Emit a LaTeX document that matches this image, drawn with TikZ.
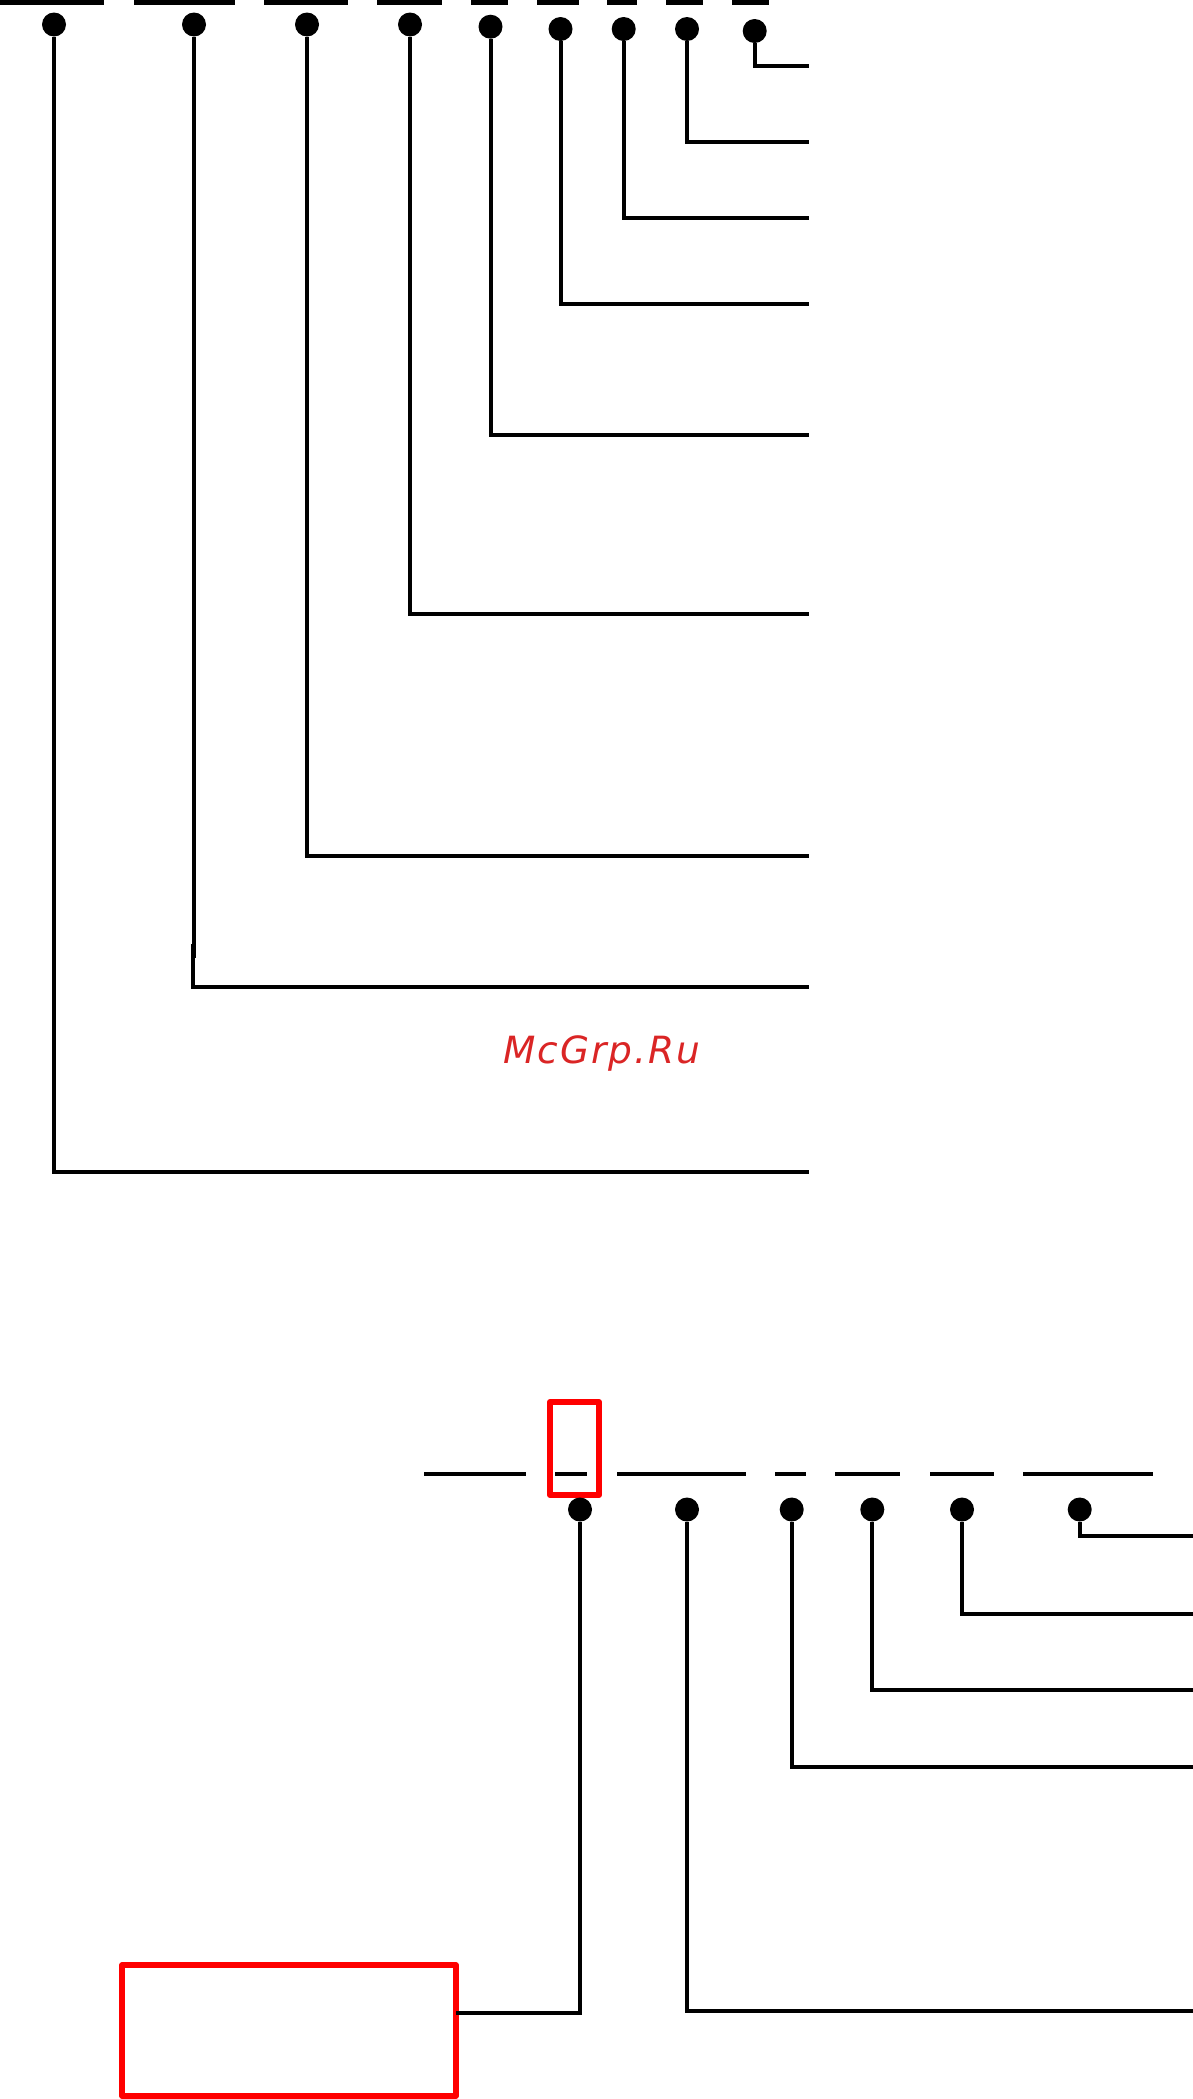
\documentclass[tikz,border=0pt]{standalone}
\usepackage{fontspec}
\newfontfamily\markfont[LetterSpace=5]{DejaVu Sans}
\definecolor{markred}{RGB}{218, 37, 37}
\definecolor{framered}{RGB}{255, 0, 0}
\tikzstyle{pindot}=[circle,fill=black,inner sep=0pt,outer sep=0pt,minimum size=24pt]
\tikzstyle{wire}=[black,line width=4pt]
\tikzstyle{bar}=[black,line width=4pt]
\tikzstyle{topbar}=[black,line width=5pt]
\tikzstyle{framebox}=[draw=framered,line width=5.7pt,line join=round,inner sep=0pt,outer sep=0pt]
\tikzstyle{marktext}=[anchor=base west,inner sep=0pt,text=markred,font=\markfont\itshape\fontsize{37.5pt}{40pt}\selectfont]
\begin{document}
\begin{tikzpicture}[x=1pt,y=-1pt]
\useasboundingbox (0,0) rectangle (1193,2099);

\draw[topbar] (0,2.5) -- (104,2.5);
\draw[topbar] (134,2.5) -- (235,2.5);
\draw[topbar] (264,2.5) -- (348,2.5);
\draw[topbar] (377,2.5) -- (442,2.5);
\draw[topbar] (471,2.5) -- (508,2.5);
\draw[topbar] (537,2.5) -- (579,2.5);
\draw[topbar] (607,2.5) -- (637,2.5);
\draw[topbar] (666,2.5) -- (703,2.5);
\draw[topbar] (732,2.5) -- (769,2.5);

\node[pindot] (T1) at (754.7,31) {};
\node[pindot] (T2) at (687,29) {};
\node[pindot] (T3) at (623.7,29) {};
\node[pindot] (T4) at (560.5,29) {};
\node[pindot] (T5) at (490.5,26.7) {};
\node[pindot] (T6) at (410,24.5) {};
\node[pindot] (T7) at (307,24.5) {};
\node[pindot] (T8) at (194,24.5) {};
\node[pindot] (T9) at (54,24.5) {};

\coordinate (T1END) at (809,65.7);
\coordinate (T2END) at (809,142);
\coordinate (T3END) at (809,218);
\coordinate (T4END) at (809,304);
\coordinate (T5END) at (809,435);
\coordinate (T6END) at (809,613.5);
\coordinate (T7END) at (809,855.5);
\coordinate (T8END) at (809,986.7);
\coordinate (T9END) at (809,1172);
\coordinate (T8JOGA) at (194,958);
\coordinate (T8JOGB) at (193,944);

\draw[wire] (T1) |- (T1END);
\draw[wire] (T2) |- (T2END);
\draw[wire] (T3) |- (T3END);
\draw[wire] (T4) |- (T4END);
\draw[wire] (T5) |- (T5END);
\draw[wire] (T6) |- (T6END);
\draw[wire] (T7) |- (T7END);
\draw[wire] (T8) -- (T8JOGA);
\draw[wire] (T8JOGB) |- (T8END);
\draw[wire] (T9) |- (T9END);

\node[marktext] (WM) at (503.5,1063.5) {McGrp.Ru};

\draw[bar] (424,1473.7) -- (526,1473.7);
\draw[bar] (555,1473.7) -- (587,1473.7);
\draw[bar] (617,1473.7) -- (746,1473.7);
\draw[bar] (775,1473.7) -- (806,1473.7);
\draw[bar] (835,1473.7) -- (900,1473.7);
\draw[bar] (930,1473.7) -- (994,1473.7);
\draw[bar] (1023,1473.7) -- (1153,1473.7);

\node[framebox,minimum width=49.4pt,minimum height=93pt] (SMALLBOX) at (574.5,1448.5) {};
\node[framebox,minimum width=334pt,minimum height=131pt] (BIGBOX) at (289,2030.5) {};

\node[pindot] (B1) at (1079.7,1509.5) {};
\node[pindot] (B2) at (962,1509.5) {};
\node[pindot] (B3) at (872.3,1509.5) {};
\node[pindot] (B4) at (791.7,1509.5) {};
\node[pindot] (B5) at (687,1509.5) {};
\node[pindot] (B6) at (580,1509.5) {};

\coordinate (B1END) at (1193,1535.7);
\coordinate (B2END) at (1193,1613.5);
\coordinate (B3END) at (1193,1690);
\coordinate (B4END) at (1193,1767);
\coordinate (B5END) at (1193,2011.2);

\draw[wire] (B1) |- (B1END);
\draw[wire] (B2) |- (B2END);
\draw[wire] (B3) |- (B3END);
\draw[wire] (B4) |- (B4END);
\draw[wire] (B5) |- (B5END);
\draw[wire] (B6) |- (BIGBOX.6.56);

\end{tikzpicture}
\end{document}
